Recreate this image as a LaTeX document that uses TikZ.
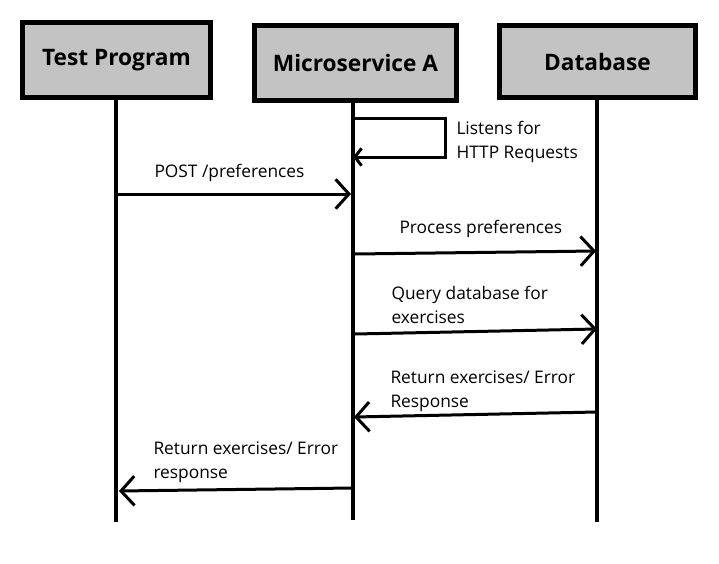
\documentclass[tikz,border=0pt]{standalone}
\usepackage{fontspec}
\setmainfont{Open Sans}
\usetikzlibrary{arrows.meta}

\tikzset{every picture/.style={line width=0.75pt}}
\tikzset{
  actor/.style={draw, line width=3.75pt, fill={rgb, 255:red, 195; green, 195; blue, 195}, minimum height=75*0.75pt, inner sep=0pt, font=\fontsize{17}{20}\selectfont\bfseries},
  lifeline/.style={line width=3pt},
  msg/.style={line width=2.25pt, -{Straight Barb[length=10pt, width=22pt]}},
  selfmsg/.style={line width=2.25pt, -{Straight Barb[length=5pt, width=13pt]}},
  msgtext/.style={anchor=base west, inner sep=0pt, align=left, font=\fontsize{13}{18}\selectfont}
}

\begin{document}
\begin{tikzpicture}[x=0.75pt,y=0.75pt,yscale=-1,xscale=1]
            \useasboundingbox (0,0) rectangle (719,564);

            %Shape: Rectangle [id:tp]
            \node [actor, minimum width=188*0.75pt] (tp) at (116.5,60) {Test Program};
            %Shape: Rectangle [id:ma]
            \node [actor, minimum width=202*0.75pt] (ma) at (355.5,63) {Microservice A};
            %Shape: Rectangle [id:db]
            \node [actor, minimum width=196*0.75pt, minimum height=72*0.75pt] (db) at (597.5,61.5) {Database};

            %Lifelines
            \coordinate (tpEnd) at (116,522);
            \coordinate (maEnd) at (353,520);
            \coordinate (dbEnd) at (597,522);
            \draw [lifeline] (tp.south -| tpEnd) -- (tpEnd) ;
            \draw [lifeline] (ma.south -| maEnd) -- (maEnd) ;
            \draw [lifeline] (db.south -| dbEnd) -- (dbEnd) ;

            %Points on the lifelines
            \coordinate (ma0) at (353,118);
            \coordinate (loop) at (445,118);
            \coordinate (ma1) at (353,157);
            \coordinate (tp1) at (117,194);
            \coordinate (ma2) at (351,194);
            \coordinate (ma3) at (355,254);
            \coordinate (db3) at (596,251);
            \coordinate (ma4) at (355,334);
            \coordinate (db4) at (597,329);
            \coordinate (db5) at (597,412);
            \coordinate (ma5) at (354,417);
            \coordinate (ma6) at (353,488);
            \coordinate (tp6) at (119,491);

            %Straight Lines [id:listen]
            \draw [selfmsg] (ma0) -- (loop) |- (ma1) ;
            %Straight Lines [id:post]
            \draw [msg] (tp1) -- (ma2) ;
            %Straight Lines [id:process]
            \draw [msg] (ma3) -- (db3) ;
            %Straight Lines [id:query]
            \draw [msg] (ma4) -- (db4) ;
            %Straight Lines [id:reply]
            \draw [msg] (db5) -- (ma5) ;
            %Straight Lines [id:result]
            \draw [msg] (ma6) -- (tp6) ;

            % Text
            \node [msgtext] (listenText) at (456,158) {Listens for\\HTTP Requests};
            \node [msgtext] (postText) at (154,177) {POST /preferences};
            \node [msgtext] (processText) at (399,233) {Process preferences};
            \node [msgtext] (queryText) at (391,323) {Query database for\\exercises};
            \node [msgtext] (replyText) at (390,407) {Return exercises/ Error\\Response};
            \node [msgtext] (resultText) at (153,478) {Return exercises/ Error\\response};

\end{tikzpicture}
\end{document}
